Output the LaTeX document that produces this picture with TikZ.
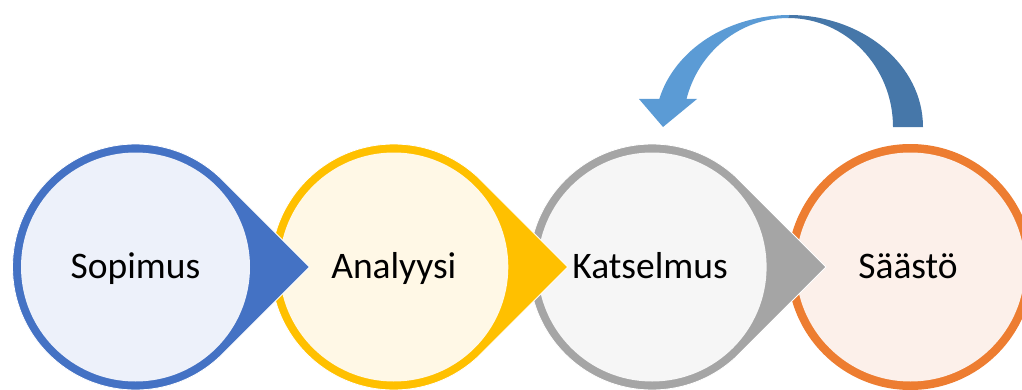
\documentclass[tikz,border=0pt]{standalone}
\usepackage{fontspec}
\setmainfont{Carlito}
\definecolor{cblue}{HTML}{4472C4}
\definecolor{fblue}{HTML}{EDF1FA}
\definecolor{cyel}{HTML}{FFC000}
\definecolor{fyel}{HTML}{FFF8E6}
\definecolor{cgrey}{HTML}{A5A5A5}
\definecolor{fgrey}{HTML}{F6F6F6}
\definecolor{corg}{HTML}{ED7D31}
\definecolor{forg}{HTML}{FCF0EA}
\definecolor{alight}{HTML}{5B9BD5}
\definecolor{adark}{HTML}{4677A9}
\tikzset{
  lbl/.style={font=\fontsize{37.5}{41}\selectfont, anchor=base, inner sep=0pt, text=black},
}
% teardrop: #1 centre x, #2 border colour, #3 fill colour
\newcommand{\teardrop}[3]{%
  \fill[#2, draw=white, line width=0.8pt] (#1,122) ++(45:123) -- ++(-45:123) -- ++(-135:123)
    arc[start angle=-45, end angle=-315, radius=123] -- cycle;
  \fill[#3] (#1,122) circle[radius=114.5];
}
\begin{document}
\begin{tikzpicture}[x=1pt,y=1pt]
\useasboundingbox (0,0) rectangle (1022,389);
% Saasto: plain circle
\fill[corg] (910.4,122) circle[radius=123];
\fill[forg] (910.4,122) circle[radius=114.5];
\teardrop{652.1}{cgrey}{fgrey}
\teardrop{393.8}{cyel}{fyel}
\teardrop{135.5}{cblue}{fblue}
\node[lbl] (sop) at (135.5,111) {Sopimus};
\node[lbl] (ana) at (393.8,111) {Analyysi};
\node[lbl] (kat) at (650,111) {Katselmus};
\node[lbl] (saa) at (908,111) {Säästö};
% curved arrow back from Saasto to Katselmus
\coordinate (arrtop) at (789,374);
\fill[adark] (arrtop) arc[start angle=90, end angle=0, x radius=134, y radius=112]
  -- ++(-30,0) arc[start angle=0, end angle=90, x radius=105, y radius=109] -- cycle;
\fill[alight] (arrtop) ++(0.5,0) arc[start angle=90, end angle=165.5, x radius=134.5, y radius=112]
  -- (639,290) -- (663,262) -- (697,290) -- (686.5,290)
  arc[start angle=165.1, end angle=90, x radius=105, y radius=109] -- cycle;
\end{tikzpicture}
\end{document}
